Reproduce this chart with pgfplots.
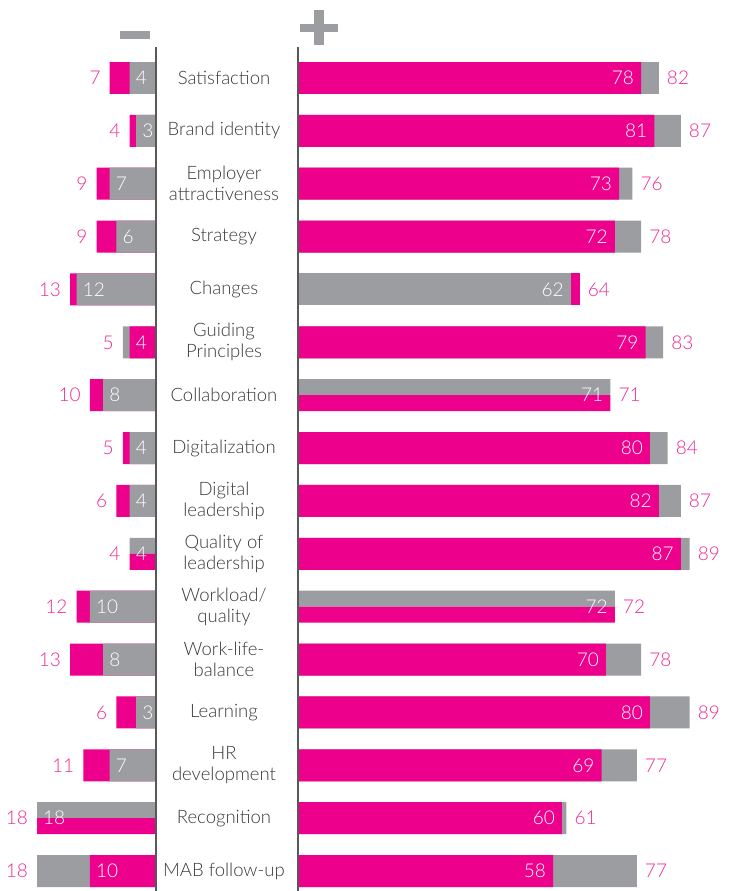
\documentclass[border=0pt]{standalone}
\usepackage{fontspec}
\setmainfont{Lato Light}
\usepackage{pgfplots}
\pgfplotsset{compat=1.18}
\definecolor{mag}{HTML}{EC008C}
\definecolor{gry}{HTML}{9C9DA1}
\definecolor{txt}{HTML}{3A3A3A}
\definecolor{axc}{HTML}{585858}
\definecolor{lab}{HTML}{EE2A92}
\pgfplotsset{
  common/.style={scale only axis, height=844pt, y dir=reverse, ymin=-0.586, ymax=15.377,
    clip=false, axis line style={draw=none}, major tick length=0pt, xtick=\empty},
  bk/.style={xbar, bar width=0.605, draw=none, fill=#1},
  hf/.style={xbar, bar width=0.3025, draw=none, fill=#1},
  outR/.style={draw=none, mark=none, point meta=explicit symbolic, nodes near coords,
    nodes near coords style={anchor=west, xshift=8pt, inner sep=0pt, text=lab,
      font=\fontsize{19}{21}\selectfont}},
  inR/.style={draw=none, mark=none, point meta=explicit symbolic, nodes near coords,
    nodes near coords style={anchor=east, xshift=-7pt, inner sep=0pt, text=white,
      font=\fontsize{19}{21}\selectfont}},
  outL/.style={draw=none, mark=none, point meta=explicit symbolic, nodes near coords,
    nodes near coords style={anchor=east, xshift=-9pt, inner sep=0pt, text=lab,
      font=\fontsize{19}{21}\selectfont}},
  inL/.style={draw=none, mark=none, point meta=explicit symbolic, nodes near coords,
    nodes near coords style={anchor=west, xshift=6pt, inner sep=0pt, text=white,
      font=\fontsize{19}{21}\selectfont}},
}
\begin{document}
\begin{tikzpicture}[font=\fontsize{18.5}{21}\selectfont]
\useasboundingbox (0,0) rectangle (736pt,-891pt);
% minus / plus signs
\fill[gry] (120pt,-31pt) rectangle (150pt,-39pt);
\fill[gry] (300pt,-24pt) rectangle (338pt,-32pt);
\fill[gry] (314pt,-10pt) rectangle (324pt,-45pt);

% ---------------- left (negative) panel ----------------
\begin{axis}[common, at={(0pt,-891pt)}, anchor=south west, width=156pt,
  x dir=reverse, xmin=0, xmax=23.6, ytick=\empty]
% back bars
\addplot[bk=mag] coordinates {(7,0)(4,1)(9,2)(9,3)(13,4)(10,6)(5,7)(6,8)(12,10)(13,11)(6,12)(11,13)};
\addplot[bk=gry] coordinates {(5,5)(18,15)};
% front bars
\addplot[bk=gry] coordinates {(4,0)(3,1)(7,2)(6,3)(12,4)(8,6)(4,7)(4,8)(10,10)(8,11)(3,12)(7,13)};
\addplot[bk=mag] coordinates {(4,5)(10,15)};
% equal values: split bars
\addplot[hf=gry] coordinates {(4,8.84875)(18,13.84875)};
\addplot[hf=mag] coordinates {(4,9.15125)(18,14.15125)};
% labels
\addplot[outL] coordinates {(7,0)[7] (4,1)[4] (9,2)[9] (9,3)[9] (13,4)[13] (5,5)[5] (10,6)[10] (5,7)[5]
  (6,8)[6] (4,9)[4] (12,10)[12] (13,11)[13] (6,12)[6] (11,13)[11] (18,14)[18] (18,15)[18]};
\addplot[inL] coordinates {(4,0)[4] (3,1)[3] (7,2)[7] (6,3)[6] (12,4)[12] (4,5)[4] (8,6)[8] (4,7)[4]
  (4,8)[4] (4,9)[4] (10,10)[10] (8,11)[8] (3,12)[3] (7,13)[7] (18,14)[18] (10,15)[10]};
\draw[axc, line width=1.6pt] (axis cs:0,-0.586) -- (axis cs:0,15.377);
\end{axis}

% ---------------- right (positive) panel ----------------
\begin{axis}[common, at={(298pt,-891pt)}, anchor=south west, width=438pt,
  xmin=0, xmax=99.55,
  ytick={0,...,15},
  yticklabels={Satisfaction, Brand identity, Employer\\attractiveness, Strategy, Changes,
    Guiding\\Principles, Collaboration, Digitalization, Digital\\leadership,
    Quality of\\leadership, Workload/\\quality, Work-life-\\balance, Learning,
    HR\\development, Recognition, MAB follow-up},
  yticklabel style={anchor=center, align=center, xshift=-74pt, text=txt,
    font=\fontsize{18.5}{21}\selectfont}]
% back bars
\addplot[bk=mag] coordinates {(64,4)};
\addplot[bk=gry] coordinates {(82,0)(87,1)(76,2)(78,3)(83,5)(84,7)(87,8)(89,9)(78,11)(89,12)(77,13)(61,14)(77,15)};
% front bars
\addplot[bk=gry] coordinates {(62,4)};
\addplot[bk=mag] coordinates {(78,0)(81,1)(73,2)(72,3)(79,5)(80,7)(82,8)(87,9)(70,11)(80,12)(69,13)(60,14)(58,15)};
% equal values: split bars
\addplot[hf=gry] coordinates {(71,5.84875)(72,9.84875)};
\addplot[hf=mag] coordinates {(71,6.15125)(72,10.15125)};
% labels
\addplot[outR] coordinates {(82,0)[82] (87,1)[87] (76,2)[76] (78,3)[78] (64,4)[64] (83,5)[83] (71,6)[71] (84,7)[84]
  (87,8)[87] (89,9)[89] (72,10)[72] (78,11)[78] (89,12)[89] (77,13)[77] (61,14)[61] (77,15)[77]};
\addplot[inR] coordinates {(78,0)[78] (81,1)[81] (73,2)[73] (72,3)[72] (62,4)[62] (79,5)[79] (71,6)[71] (80,7)[80]
  (82,8)[82] (87,9)[87] (72,10)[72] (70,11)[70] (80,12)[80] (69,13)[69] (60,14)[60] (58,15)[58]};
\draw[axc, line width=1.6pt] (axis cs:0,-0.586) -- (axis cs:0,15.377);
\end{axis}
\end{tikzpicture}
\end{document}
